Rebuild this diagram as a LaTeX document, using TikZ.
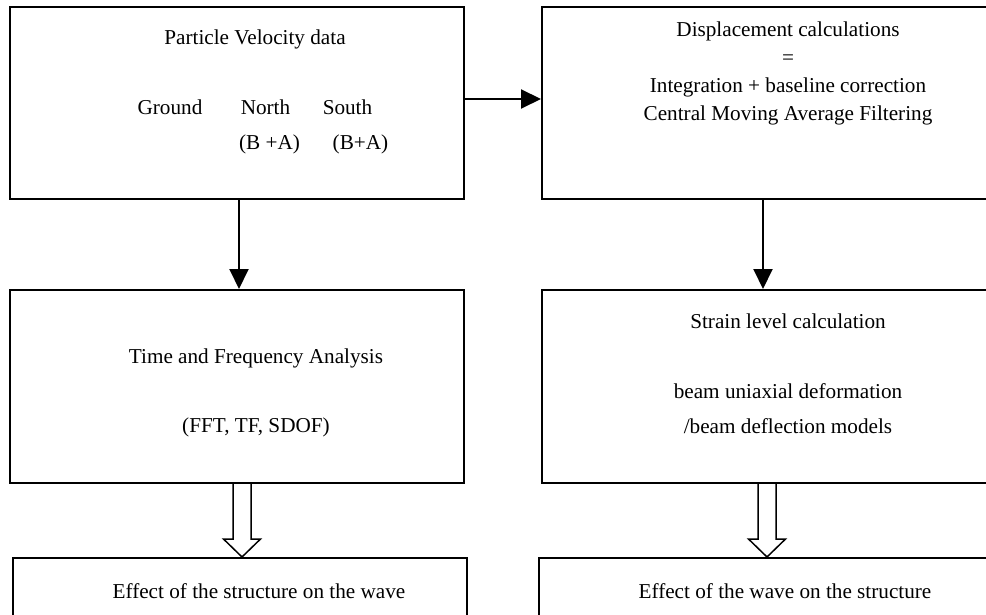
\documentclass[tikz,border=0pt]{standalone}
\usepackage{fontspec}
\setmainfont{Liberation Serif}
\usetikzlibrary{arrows.meta,calc}
\begin{document}
\begin{tikzpicture}[x=1pt,y=-1pt,
  box/.style={draw=black,line width=2pt,rectangle,inner sep=0pt},
  lbl/.style={anchor=base,inner sep=0pt,font=\fontsize{21.2}{25}\selectfont},
  arr/.style={line width=2pt,-{Triangle[length=20pt,width=19pt]}},
  hollow/.style={draw=black,line width=1.5pt,fill=white,line join=miter}]
\useasboundingbox (0,0) rectangle (986,615);
\clip (0,0) rectangle (986,615);
% boxes
\node[box,minimum width=454pt,minimum height=192pt] (tl) at (237,103) {};
\node[box,minimum width=458pt,minimum height=192pt] (tr) at (771,103) {};
\node[box,minimum width=454pt,minimum height=193pt] (ml) at (237,386.5) {};
\node[box,minimum width=458pt,minimum height=193pt] (mr) at (771,386.5) {};
\node[box,minimum width=454pt,minimum height=100pt] (bl) at (240,608) {};
\node[box,minimum width=458pt,minimum height=100pt] (br) at (768,608) {};
% texts
\node[lbl] (t1) at (255,45) {Particle Velocity data};
\node[lbl] (t2) at (170,115) {Ground};
\node[lbl] (t3) at (265.5,115) {North};
\node[lbl] (t4) at (347.5,115) {South};
\node[lbl] (t5) at (269.5,150) {(B +A)};
\node[lbl] (t6) at (360.5,150) {(B+A)};
\node[lbl] (t7) at (788,37) {Displacement calculations};
\node[lbl] (t8) at (788,65) {=};
\node[lbl] (t9) at (788,93) {Integration + baseline correction};
\node[lbl] (t10) at (788,121) {Central Moving Average Filtering};
\node[lbl] (t11) at (256,363) {Time and Frequency Analysis};
\node[lbl] (t12) at (256,432) {(FFT, TF, SDOF)};
\node[lbl] (t13) at (788,328) {Strain level calculation};
\node[lbl] (t14) at (788,398) {beam uniaxial deformation};
\node[lbl] (t15) at (788,433) {/beam deflection models};
\node[lbl] (t16) at (259,598) {Effect of the structure on the wave};
\node[lbl] (t17) at (785,598) {Effect of the wave on the structure};
% arrows
\draw[arr] ([yshift=4pt]tl.east) -- ([yshift=4pt]tr.west);
\draw[arr] ([xshift=2pt]tl.south) -- ([xshift=2pt]ml.north);
\draw[arr] ([xshift=-8pt]tr.south) -- ([xshift=-8pt]mr.north);
% hollow arrows
\draw[hollow] let \p1=([xshift=5pt]ml.south), \p2=(bl.north) in
  (\x1-9pt,\y1) -- (\x1-9pt,\y2+18pt) -- (\x1-18.5pt,\y2+18pt) -- (\x1,\y2)
  -- (\x1+18.5pt,\y2+18pt) -- (\x1+9pt,\y2+18pt) -- (\x1+9pt,\y1);
\draw[hollow] let \p1=([xshift=-4pt]mr.south), \p2=(br.north) in
  (\x1-9pt,\y1) -- (\x1-9pt,\y2+18pt) -- (\x1-18.5pt,\y2+18pt) -- (\x1,\y2)
  -- (\x1+18.5pt,\y2+18pt) -- (\x1+9pt,\y2+18pt) -- (\x1+9pt,\y1);
\end{tikzpicture}
\end{document}
